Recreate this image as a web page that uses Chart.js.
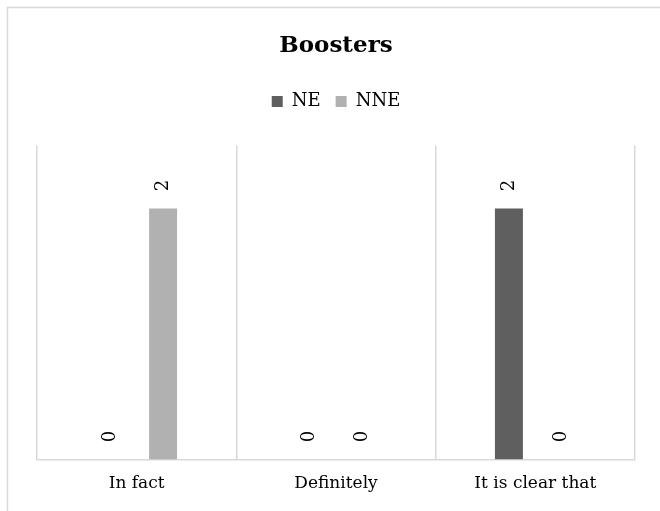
<!DOCTYPE html>
<html>
<head>
<meta charset="utf-8">
<script src="https://cdn.jsdelivr.net/npm/chart.js@4/dist/chart.umd.min.js"></script>
<style>
  html, body { margin: 0; padding: 0; background: #fff; }
  #wrap { width: 660px; height: 511px; position: relative; }
</style>
</head>
<body>
<div id="wrap"><canvas id="boostersChart" width="660" height="511"></canvas></div>
<script>
// Categories and series
const categories = ['In fact', 'Definitely', 'It is clear that'];
const neValues = [0, 0, 2];
const nneValues = [2, 0, 0];

const serif = "'DejaVu Serif', serif";

// Outer frame of the chart
const frame = {
    id: 'frame',
    beforeDraw(chart) {
        const ctx = chart.ctx;
        ctx.save();
        ctx.strokeStyle = '#d9d9d9';
        ctx.lineWidth = 1.5;
        ctx.strokeRect(7.5, 7.5, 720, 600);
        ctx.restore();
    }
};

// Rotated value labels above each bar
const valueLabels = {
    id: 'valueLabels',
    afterDatasetsDraw(chart) {
        const ctx = chart.ctx;
        ctx.save();
        ctx.font = '18px ' + serif;
        ctx.fillStyle = '#000';
        ctx.textAlign = 'center';
        ctx.textBaseline = 'middle';
        chart.data.datasets.forEach((ds, di) => {
            const meta = chart.getDatasetMeta(di);
            meta.data.forEach((bar, i) => {
                ctx.save();
                ctx.translate(bar.x, bar.y - 23);
                ctx.rotate(-Math.PI / 2);
                ctx.fillText(String(ds.data[i]), 0, 0);
                ctx.restore();
            });
        });
        ctx.restore();
    }
};

new Chart(document.getElementById('boostersChart'), {
    type: 'bar',
    data: {
        labels: categories,
        datasets: [
            { label: 'NE', data: neValues, backgroundColor: '#5f5f5f',
              barPercentage: 0.53, categoryPercentage: 0.53 },
            { label: 'NNE', data: nneValues, backgroundColor: '#b1b1b1',
              barPercentage: 0.53, categoryPercentage: 0.53 }
        ]
    },
    options: {
        responsive: false,
        animation: false,
        layout: { padding: { left: 37, right: 25, top: 0, bottom: 3 } },
        plugins: {
            title: {
                display: true,
                text: 'Boosters',
                color: '#000',
                font: { family: serif, size: 23, weight: 'bold' },
                padding: { top: 32, bottom: 18 }
            },
            legend: {
                display: true,
                position: 'top',
                labels: {
                    color: '#000',
                    font: { family: serif, size: 18 },
                    boxWidth: 11,
                    boxHeight: 11,
                    padding: 15
                }
            },
            tooltip: { enabled: false }
        },
        scales: {
            x: {
                grid: { display: true, color: '#d9d9d9', lineWidth: 1.5, drawTicks: false, offset: true },
                border: { display: true, color: '#d9d9d9', width: 1.5 },
                ticks: { color: '#000', font: { family: serif, size: 17 }, padding: 14, maxRotation: 0 }
            },
            // empty band between the legend and the plot
            gap: {
                type: 'category',
                position: 'top',
                grid: { display: false },
                border: { display: false },
                ticks: { display: false },
                afterFit(scale) { scale.height = 25; }
            },
            y: {
                display: false,
                min: 0,
                max: 2.5
            }
        }
    },
    plugins: [frame, valueLabels]
});
</script>
</body>
</html>
